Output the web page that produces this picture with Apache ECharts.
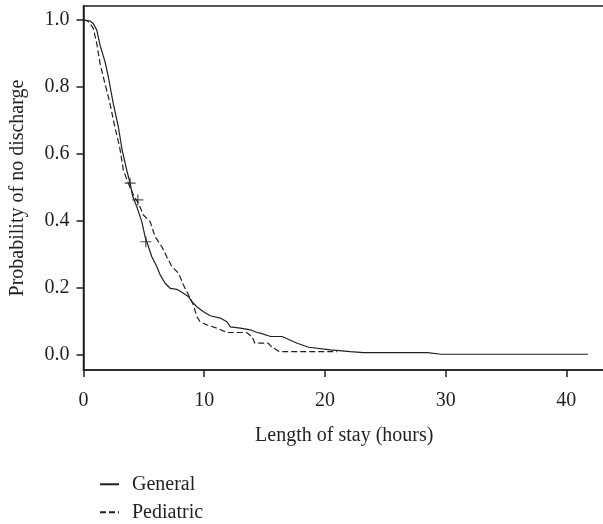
<!DOCTYPE html>
<html style="height: 100%">
<head>
	<title></title>
	<script type="text/javascript" src="https://cdn.jsdelivr.net/npm/echarts@6/dist/echarts.min.js"></script>
	<script type="text/javascript">
		// Kaplan-Meier curves
		var generalT = [0, 0.5, 0.81, 1.1, 1.37, 1.78, 2.06, 2.47, 2.89, 3.2, 3.58, 3.86, 4.08, 4.41, 4.83, 5.1, 5.38, 5.66, 6.07, 6.35, 6.76, 7.18, 7.73, 8.28, 8.7, 8.98, 9.39, 9.94, 10.5, 11.33, 11.88, 12.16, 12.99, 13.82, 14.37, 14.65, 15.5, 16.45, 17.7, 18.66, 20.46, 22.1, 23.2, 28.5, 29.6, 41.8];
		var generalP = [1.0, 0.998, 0.99, 0.97, 0.925, 0.876, 0.83, 0.75, 0.68, 0.612, 0.552, 0.513, 0.473, 0.443, 0.398, 0.353, 0.323, 0.293, 0.264, 0.239, 0.214, 0.199, 0.196, 0.184, 0.174, 0.159, 0.144, 0.129, 0.117, 0.110, 0.099, 0.084, 0.080, 0.075, 0.067, 0.065, 0.055, 0.055, 0.035, 0.023, 0.015, 0.01, 0.007, 0.007, 0.002, 0.002];

		var pedT = [0, 0.3, 0.54, 0.81, 1.1, 1.37, 1.78, 2.2, 2.6, 3.0, 3.3, 3.72, 4.19, 4.55, 4.96, 5.52, 5.93, 6.49, 6.9, 7.32, 7.87, 8.28, 8.7, 9.11, 9.39, 9.67, 10.2, 11.05, 11.88, 13.5, 13.96, 14.2, 15.3, 15.5, 16.2, 21.0];
		var pedP = [1.0, 0.998, 0.99, 0.975, 0.93, 0.87, 0.81, 0.75, 0.68, 0.62, 0.552, 0.512, 0.473, 0.453, 0.418, 0.398, 0.353, 0.323, 0.293, 0.264, 0.244, 0.209, 0.179, 0.149, 0.114, 0.099, 0.09, 0.08, 0.067, 0.067, 0.055, 0.035, 0.035, 0.027, 0.01, 0.01];

		// censored marks
		var generalCensT = [3.86, 5.16];
		var generalCensP = [0.513, 0.338];
		var pedCensT = [4.5];
		var pedCensP = [0.463];

		var xTicks = [0, 10, 20, 30, 40];
		var yTicks = [0, 0.2, 0.4, 0.6, 0.8, 1.0];

		var ink = '#231f20';
		var serif = '"Liberation Serif", "DejaVu Serif", serif';
		var plus = 'path://M0,5 L10,5 M5,0 L5,10';

		function zip(a, b){
			var out = [];
			for(var i=0;i<a.length;i++){
				out.push([a[i], b[i]]);
			}
			return out;
		}

		function legendAt(name, top){
			return {
				left: 99,
				top: top,
				padding: 0,
				itemWidth: 19,
				itemHeight: 14,
				itemStyle: {color: 'transparent', borderColor: 'transparent', borderWidth: 0},
				textStyle: {fontFamily: serif, fontSize: 20, color: ink, padding: [0, 0, 0, 8]},
				data: [name]
			};
		}

		window.onload = function(){
			var myChart = echarts.init(document.getElementById('container'));

			var option = {
				animation: false,
				grid: {
					left: 83.5,
					right: -2,
					top: 6,
					bottom: 154,
					outerBoundsMode: 'none',
					containLabel: false,
					show: true,
					borderColor: ink,
					borderWidth: 1.5
				},
				legend: [legendAt('General', 469), legendAt('Pediatric', 497)],
				xAxis: {
					type: 'value',
					min: 0,
					max: 43.2,
					name: 'Length of stay (hours)',
					nameLocation: 'middle',
					nameGap: 49,
					nameTextStyle: {fontFamily: serif, fontSize: 20, color: ink},
					axisLine: {onZero: false, lineStyle: {color: ink, width: 1.5}},
					axisTick: {show: true, length: 7, lineStyle: {color: ink, width: 1.5}, customValues: xTicks},
					axisLabel: {fontFamily: serif, fontSize: 20, color: ink, margin: 15, customValues: xTicks},
					splitLine: {show: false}
				},
				yAxis: {
					type: 'value',
					min: -0.045,
					max: 1.042,
					name: 'Probability of no discharge',
					nameLocation: 'middle',
					nameGap: 50,
					nameTextStyle: {fontFamily: serif, fontSize: 20, color: ink},
					axisLine: {show: true, onZero: false, lineStyle: {color: ink, width: 1.5}},
					axisTick: {show: true, length: 7, lineStyle: {color: ink, width: 1.5}, customValues: yTicks},
					axisLabel: {fontFamily: serif, fontSize: 20, color: ink, margin: 14, customValues: yTicks,
						formatter: function(v){ return v.toFixed(1); }},
					splitLine: {show: false}
				},
				series: [
					{
						name: 'General',
						type: 'line',
						data: zip(generalT, generalP),
						symbol: 'none',
						lineStyle: {color: ink, width: 1.2, type: 'solid'},
						itemStyle: {color: ink}
					},
					{
						name: 'Pediatric',
						type: 'line',
						data: zip(pedT, pedP),
						symbol: 'none',
						lineStyle: {color: ink, width: 1.2, type: [6, 3]},
						itemStyle: {color: ink}
					},
					{
						name: 'General censored',
						type: 'scatter',
						data: zip(generalCensT, generalCensP),
						symbol: plus,
						symbolSize: 11,
						itemStyle: {color: 'transparent', borderColor: ink, borderWidth: 1.2}
					},
					{
						name: 'Pediatric censored',
						type: 'scatter',
						data: zip(pedCensT, pedCensP),
						symbol: plus,
						symbolSize: 11,
						itemStyle: {color: 'transparent', borderColor: ink, borderWidth: 1.2}
					}
				]
			};

			myChart.setOption(option);
		};
	</script>
</head>
<body style="height: 100%; margin: 0">
<div id="container" style="width: 603px; height: 524px"></div>
</body>
</html>
